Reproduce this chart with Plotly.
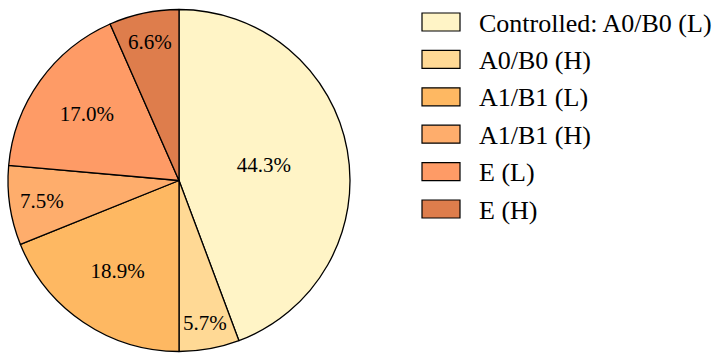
import plotly.graph_objects as go

labels = ["Controlled: A0/B0 (L)", "A0/B0 (H)", "A1/B1 (L)", "A1/B1 (H)", "E (L)", "E (H)"]
values = [44.3, 5.7, 18.9, 7.5, 17.0, 6.6]
colors = ["#FFF4C6", "#FFD995", "#FEB862", "#FEAD6C", "#FE9B66", "#DE7D4C"]

W, H = 724, 361
FONT = "Liberation Serif"

fig = go.Figure()
fig.add_trace(go.Pie(
    labels=labels, values=values, sort=False, direction="clockwise", rotation=0,
    marker=dict(colors=colors, line=dict(color="black", width=1.3)),
    texttemplate="%{percent:.1%}", textposition="inside", insidetextorientation="horizontal",
    textfont=dict(family=FONT, size=21, color="black"),
    domain=dict(x=[8 / W, 350 / W], y=[9 / H, 352 / H]),
    showlegend=False, hoverinfo="label+percent",
))

# custom legend built from labels/colors
y0, dy = 22, 37.4
for i, (lab, col) in enumerate(zip(labels, colors)):
    yc = y0 + i * dy
    fig.add_shape(type="rect", xref="paper", yref="paper",
                  x0=422 / W, x1=460 / W, y0=1 - (yc - 9) / H, y1=1 - (yc + 9) / H,
                  fillcolor=col, line=dict(color="black", width=1.2))
    fig.add_annotation(xref="paper", yref="paper", x=477 / W, y=1 - (yc + 1) / H,
                       xanchor="left", yanchor="middle", text=lab, showarrow=False,
                       font=dict(family=FONT, size=26, color="black"))

fig.update_layout(width=W, height=H, margin=dict(l=0, r=0, t=0, b=0),
                  paper_bgcolor="white", plot_bgcolor="white")
fig.write_html("out.html", config={"displayModeBar": False},
               post_script="document.body.style.margin='0';")
